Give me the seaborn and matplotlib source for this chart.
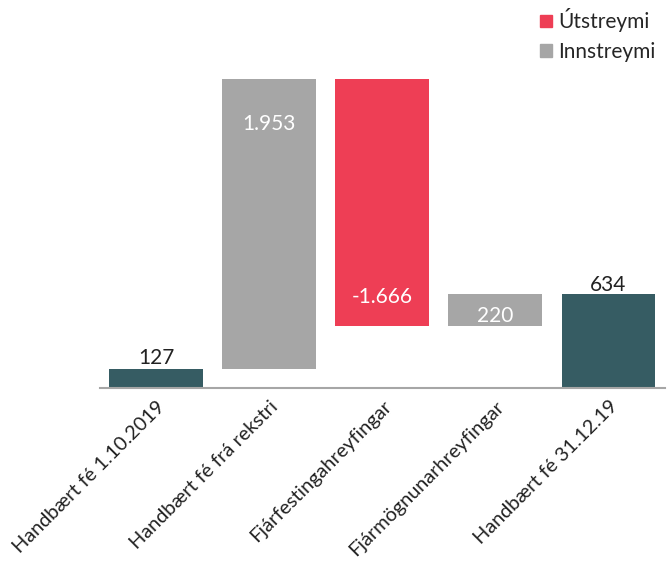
import matplotlib
matplotlib.use("Agg")
import matplotlib.pyplot as plt
import matplotlib.patches as mpatches
import seaborn as sns
import numpy as np

# Gögn (data)
flokkar = ['Handbært fé 1.10.2019', 'Handbært fé frá rekstri', 'Fjárfestingahreyfingar',
           'Fjármögnunarhreyfingar', 'Handbært fé 31.12.19']
breytingar = [127, 1953, -1666, 220, 634]
merki = ['127', '1.953', '-1.666', '220', '634']
tegund = ['stada', 'inn', 'ut', 'inn', 'stada']

litir = {'stada': '#365C63', 'inn': '#A6A6A6', 'ut': '#EE3E55'}

# Waterfall: grunnur fyrir hverja súlu
grunnur = [0, breytingar[0], breytingar[0] + breytingar[1], sum(breytingar[:3]), 0]

sns.set_theme(style="white")
plt.rcParams['font.family'] = ['Lato', 'DejaVu Sans']

fig = plt.figure(figsize=(6.70, 5.72), dpi=100)
ax = fig.add_axes([99.5 / 670, (572 - 388) / 572, 565.5 / 670, 342 / 572])

sns.barplot(x=flokkar, y=breytingar, bottom=grunnur, width=0.83, ax=ax, color='#A6A6A6')
for p, t in zip(ax.patches, tegund):
    p.set_facecolor(litir[t])
    p.set_edgecolor('none')

ax.set_ylim(0, 2300)
ax.set_xlim(-0.5, 4.5)

# Merkingar
fs = 15
ax.text(0, 127 + 8, merki[0], ha='center', va='bottom', fontsize=fs, color='#222222')
ax.text(1, 2080 - 370, merki[1], ha='center', va='bottom', fontsize=fs, color='white')
ax.text(2, 414 + 130, merki[2], ha='center', va='bottom', fontsize=fs, color='white')
ax.text(3, 414 + 2, merki[3], ha='center', va='bottom', fontsize=fs, color='white')
ax.text(4, 634 - 10, merki[4], ha='center', va='bottom', fontsize=fs, color='#222222')

ax.set_yticks([])
for s in ['top', 'right', 'left']:
    ax.spines[s].set_visible(False)
ax.spines['bottom'].set_color('#A6A6A6')
ax.spines['bottom'].set_linewidth(1.5)
ax.tick_params(axis='x', length=0, pad=7)
plt.setp(ax.get_xticklabels(), rotation=45, ha='right', rotation_mode='anchor',
         fontsize=14.3, color='#222222')

handles = [mpatches.Patch(color=litir['ut'], label='Útstreymi'),
           mpatches.Patch(color=litir['inn'], label='Innstreymi')]
fig.legend(handles=handles, loc='upper left', bbox_to_anchor=(532 / 670, 1 - 0 / 572),
           frameon=False, fontsize=15, handlelength=0.55, handleheight=0.55,
           handletextpad=0.3, labelspacing=0.45, borderaxespad=0)

fig.savefig('out.png', dpi=100)
